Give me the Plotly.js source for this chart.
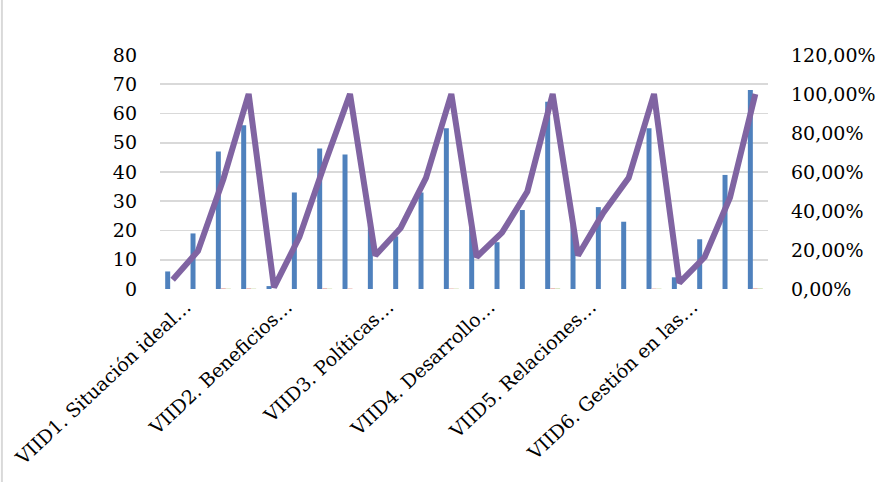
<!DOCTYPE html>
<html>
<head>
<meta charset="utf-8">
<script src="https://cdn.plot.ly/plotly-3.0.1.min.js"></script>
<style>html,body{margin:0;padding:0;background:#fff;}#chart{width:886px;height:482px;}</style>
</head>
<body>
<div id="chart"></div>
<script>
// Group labels shown on the category axis (every 4th category)
const groupLabels = [
  "VIID1. Situación ideal…",
  "VIID2. Beneficios…",
  "VIID3. Políticas…",
  "VIID4. Desarrollo…",
  "VIID5. Relaciones…",
  "VIID6. Gestión en las…"
];
const levelsPerGroup = 4;

// Frequencies (blue bars, left axis)
const frequency = [6, 19, 47, 56,  1, 33, 48, 46,  22, 18, 33, 55,  21, 16, 27, 64,  22, 28, 23, 55,  4, 17, 39, 68];
// Tiny companion series (barely visible)
const seriesRed   = [0, 0, 0.3, 0.3,  0, 0, 0.3, 0.2,  0, 0, 0, 0.2,  0, 0, 0, 0.3,  0, 0, 0, 0.2,  0, 0, 0, 0.3];
const seriesGreen = [0, 0, 0.2, 0.2,  0, 0, 0.2, 0,    0, 0, 0, 0.2,  0, 0, 0, 0.3,  0, 0, 0, 0.2,  0, 0, 0, 0.3];
// Cumulative percentage (purple line, right axis)
const cumulative = [0.047, 0.195, 0.563, 1.0,  0.008, 0.266, 0.641, 1.0,  0.172, 0.313, 0.570, 1.0,
                    0.164, 0.289, 0.500, 1.0,  0.172, 0.391, 0.570, 1.0,  0.031, 0.164, 0.469, 1.0];

const xs = frequency.map((_, i) => i);
const tickvals = groupLabels.map((_, g) => g * levelsPerGroup);

const font = {family: "DejaVu Serif, Liberation Serif, serif", size: 19, color: "#000"};

const traces = [
  {type: "bar", x: xs, y: frequency, marker: {color: "#4F81BD"}, name: "Frecuencia", hoverinfo: "skip"},
  {type: "bar", x: xs, y: seriesRed, marker: {color: "#E8B4B2"}, name: "s2", hoverinfo: "skip"},
  {type: "bar", x: xs, y: seriesGreen, marker: {color: "#D7E4BD"}, name: "s3", hoverinfo: "skip"},
  {type: "scatter", mode: "lines", x: xs, y: cumulative, yaxis: "y2",
   line: {color: "#8064A2", width: 6, shape: "linear"}, name: "% acumulado", hoverinfo: "skip"}
];

const layout = {
  width: 886, height: 482,
  margin: {l: 160, r: 118, t: 55, b: 193},
  paper_bgcolor: "#fff", plot_bgcolor: "#fff",
  font: font,
  separators: ",.",
  showlegend: false,
  barmode: "group",
  bargap: 0.41,
  bargroupgap: 0,
  xaxis: {
    range: [-0.5, 23.5],
    tickmode: "array", tickvals: tickvals, ticktext: groupLabels,
    tickangle: -43, showgrid: false, zeroline: false, showline: false,
    ticks: "", tickfont: font, ticklabelshift: 13, ticklabelstandoff: 2
  },
  yaxis: {
    range: [0, 80], dtick: 10, showgrid: true, gridcolor: "#D9D9D9", gridwidth: 1.6,
    zeroline: false, showline: false, ticks: "", tickfont: font, ticklabelstandoff: 22
  },
  yaxis2: {
    overlaying: "y", side: "right", range: [0, 1.2], dtick: 0.2, tickformat: ".2%",
    showgrid: false, zeroline: false, showline: false, ticks: "", tickfont: font, ticklabelstandoff: 22
  },
  shapes: [
    {type: "line", xref: "paper", yref: "paper", x0: -0.26, x1: -0.26, y0: -0.83, y1: 1.25,
     line: {color: "#D9D9D9", width: 2}}
  ]
};

Plotly.newPlot("chart", traces, layout, {staticPlot: true, displayModeBar: false});
</script>
</body>
</html>
